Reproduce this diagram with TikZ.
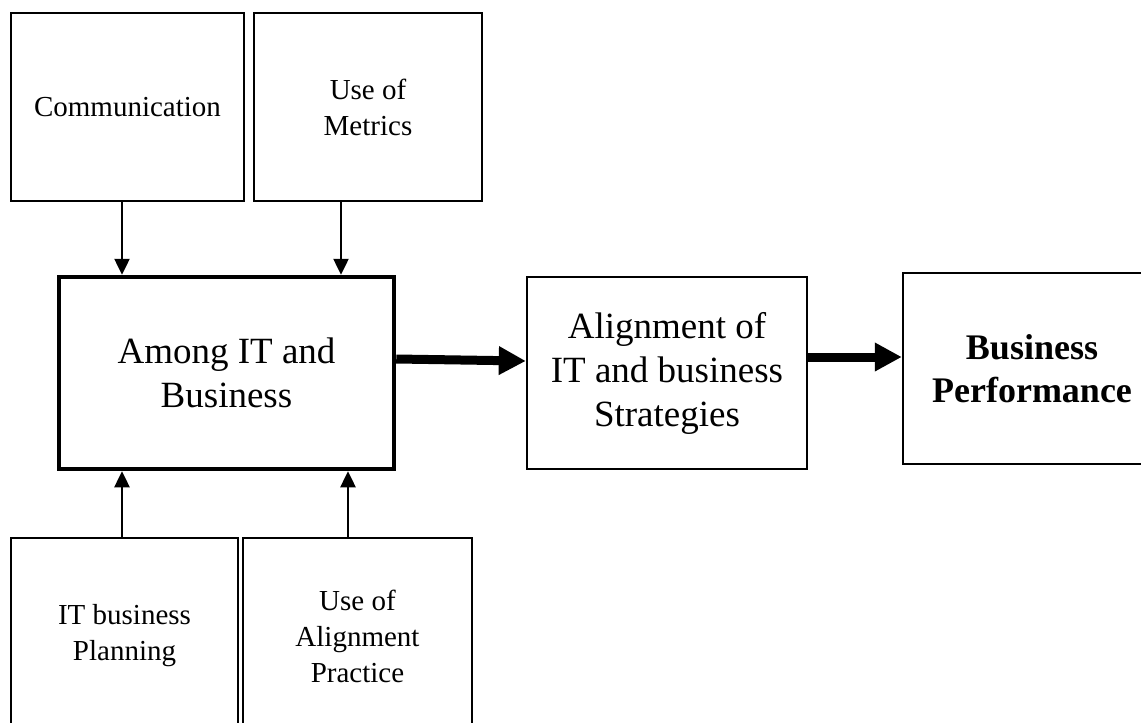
\documentclass[tikz,border=0pt]{standalone}
\usepackage{fontspec}
\setmainfont{Liberation Serif}
\usetikzlibrary{arrows.meta}
\tikzset{
  smallbox/.style={draw, line width=2.2pt, inner sep=0pt, align=center, font=\fontsize{29}{36}\selectfont},
  bigbox/.style={draw, line width=2.4pt, inner sep=0pt, align=center, font=\fontsize{37}{44}\selectfont},
  thinarrow/.style={line width=2.5pt, -{Triangle[length=16pt,width=15pt]}},
  thickarrow/.style={line width=9pt, -{Triangle[length=27pt,width=27pt]}}
}
\begin{document}
\begin{tikzpicture}[x=1pt,y=-1pt]
\useasboundingbox (0,0) rectangle (1141,723);
\node[smallbox, minimum width=233pt, minimum height=188pt] (comm) at (127.5,107) {Communication};
\node[smallbox, minimum width=228pt, minimum height=188pt] (metr) at (368,107) {Use of\\Metrics};
\node[bigbox, line width=4.5pt, minimum width=335pt, minimum height=192pt] (among) at (226.5,373) {Among IT and\\Business};
\node[bigbox, minimum width=280pt, minimum height=192pt] (align) at (667,373) {Alignment of\\IT and business\\Strategies};
\node[bigbox, minimum width=258pt, minimum height=191pt, font=\fontsize{36}{43}\selectfont\bfseries] (perf) at (1032,368.5) {Business\\Performance};
\node[smallbox, minimum width=227pt, minimum height=196pt] (plan) at (124.5,636) {IT business\\Planning};
\node[smallbox, minimum width=229pt, minimum height=196pt] (prac) at (357.5,636) {Use of\\Alignment\\Practice};
\coordinate (xa) at (122,0);
\coordinate (xb) at (341,0);
\coordinate (xc) at (348,0);
\coordinate (ya) at (0,359);
\coordinate (yb) at (0,361);
\coordinate (yc) at (0,357);
\draw[thinarrow] (comm.south -| xa) -- (among.north -| xa);
\draw[thinarrow] (metr.south -| xb) -- (among.north -| xb);
\draw[thinarrow] (plan.north -| xa) -- (among.south -| xa);
\draw[thinarrow] (prac.north -| xc) -- (among.south -| xc);
\draw[thickarrow] (among.east |- ya) -- (align.west |- yb);
\draw[thickarrow] (align.east |- yc) -- (perf.west |- yc);
\end{tikzpicture}
\end{document}
